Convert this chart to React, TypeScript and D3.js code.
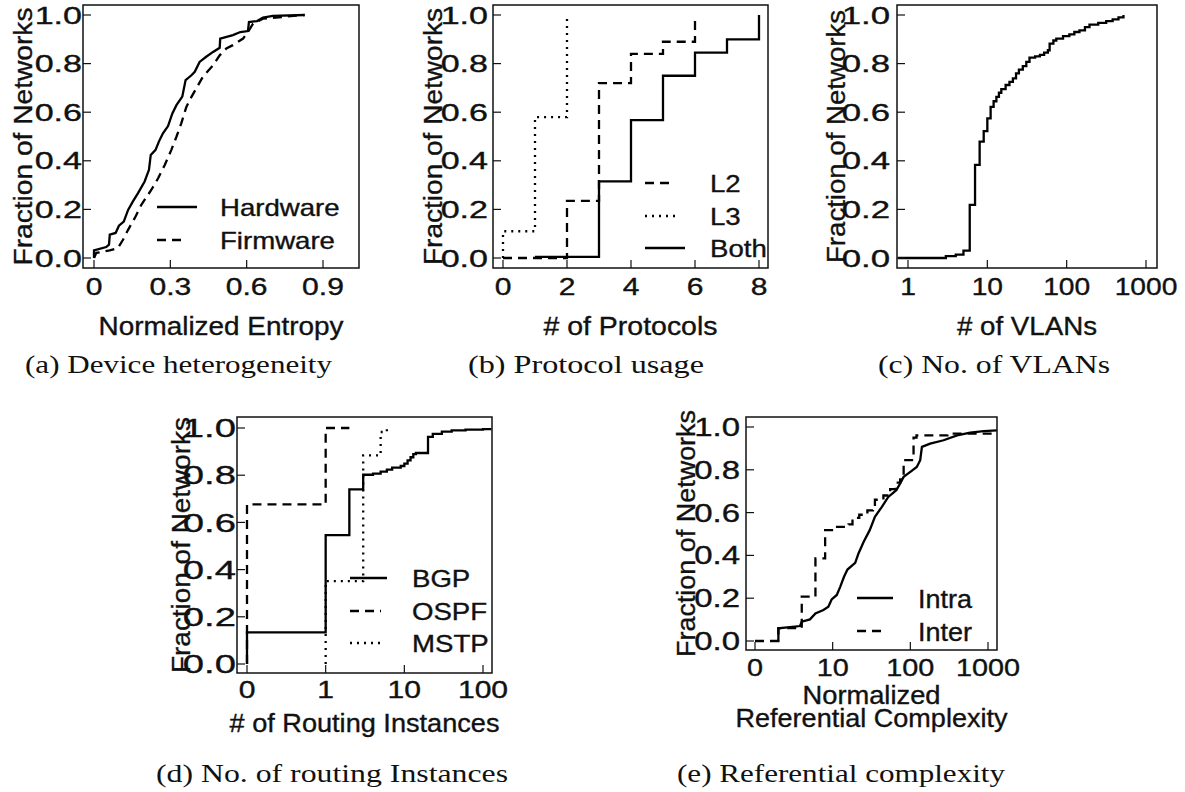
import React from "react";
import * as d3 from "d3";

type P = [number, number];

// ---------- (a) Device heterogeneity ----------
const hardwareCdf: P[] = [
  [0, 0], [0, 0.031], [0.048, 0.045], [0.059, 0.055], [0.062, 0.096], [0.085, 0.103],
  [0.098, 0.133], [0.117, 0.15], [0.134, 0.198], [0.153, 0.233], [0.173, 0.267],
  [0.199, 0.315], [0.216, 0.363], [0.223, 0.424], [0.242, 0.445], [0.255, 0.479],
  [0.271, 0.513], [0.291, 0.543], [0.308, 0.595], [0.324, 0.629], [0.347, 0.664],
  [0.36, 0.732], [0.383, 0.752], [0.396, 0.766], [0.415, 0.807], [0.441, 0.828],
  [0.468, 0.848], [0.494, 0.865], [0.496, 0.903], [0.546, 0.917], [0.575, 0.93],
  [0.605, 0.934], [0.609, 0.971], [0.641, 0.975], [0.664, 0.989], [0.703, 0.996],
  [0.828, 1.0],
];
const firmwareCdf: P[] = [
  [0, 0], [0.009, 0.021], [0.062, 0.031], [0.094, 0.041], [0.114, 0.075], [0.134, 0.116],
  [0.16, 0.164], [0.186, 0.219], [0.225, 0.28], [0.252, 0.328], [0.278, 0.383],
  [0.304, 0.445], [0.324, 0.499], [0.343, 0.554], [0.363, 0.622], [0.383, 0.663],
  [0.402, 0.698], [0.428, 0.746], [0.468, 0.793], [0.494, 0.834], [0.52, 0.862],
  [0.546, 0.876], [0.586, 0.903], [0.609, 0.937], [0.625, 0.964], [0.664, 0.985],
  [0.828, 1.0],
];
const aTicks = [0, 0.3, 0.6, 0.9];
const aTickLabels = ["0", "0.3", "0.6", "0.9"];

// ---------- (b) Protocol usage ----------
const l2Cdf: P[] = [[0, 0], [2, 0.235], [3, 0.72], [4, 0.84], [5, 0.89], [6, 0.98]];
const l3Cdf: P[] = [[0, 0], [0, 0.11], [1, 0.58], [2, 1.0]];
const bothCdf: P[] = [[1, 0.005], [3, 0.315], [4, 0.567], [5, 0.75], [6, 0.845], [7, 0.9], [8, 1.0]];
const bTicks = [0, 2, 4, 6, 8];
const bTickLabels = ["0", "2", "4", "6", "8"];

// ---------- (c) No. of VLANs ----------
const vlanCdf: P[] = [
  [0.75, 0], [3, 0.008], [4, 0.014], [5, 0.03], [6, 0.219], [7, 0.383], [8, 0.479],
  [9, 0.522], [10, 0.575], [11, 0.622], [12, 0.645], [13, 0.663], [14, 0.68], [15, 0.695],
  [17, 0.712], [19, 0.725], [21, 0.739], [23, 0.76], [25, 0.775], [28, 0.79], [31, 0.807],
  [34, 0.825], [40, 0.83], [46, 0.836], [52, 0.845], [58, 0.855], [61, 0.882], [68, 0.895],
  [74, 0.903], [90, 0.913], [108, 0.92], [125, 0.93], [145, 0.937], [170, 0.95],
  [194, 0.96], [250, 0.968], [315, 0.975], [380, 0.982], [450, 0.99], [520, 1.0],
];
const cTicks = [1, 10, 100, 1000];
const cTickLabels = ["1", "10", "100", "1000"];

// ---------- (d) No. of routing instances ----------
const bgpCdf: P[] = [
  [0, 0], [0, 0.134], [1, 0.546], [2, 0.74], [3, 0.802], [4, 0.807], [5, 0.815],
  [6, 0.824], [7, 0.832], [9, 0.839], [10, 0.849], [11, 0.863], [12, 0.876], [13, 0.889],
  [14, 0.894], [20, 0.962], [23, 0.975], [30, 0.985], [40, 0.99], [60, 0.993],
  [100, 0.995], [128, 0.995],
];
const ospfCdf: P[] = [[0, 0], [0, 0.676], [1, 1.0], [2, 1.0]];
const mstpCdf: P[] = [[1, 0], [1, 0.351], [3, 0.884], [5, 0.983], [6, 1.0]];
const dTicks = [0, 1, 10, 100];
const dTickLabels = ["0", "1", "10", "100"];

// ---------- (e) Referential complexity ----------
const intraCdf: P[] = [
  [2, 0], [2, 0.059], [2.6, 0.064], [3.8, 0.07], [4, 0.09], [5.1, 0.101], [6, 0.129],
  [7.6, 0.145], [8.8, 0.16], [9.7, 0.194], [11.3, 0.215], [12.5, 0.253], [14, 0.3],
  [15.5, 0.334], [19.5, 0.365], [21.5, 0.409], [25, 0.463], [30, 0.518], [35, 0.58],
  [43, 0.627], [52, 0.673], [66, 0.705], [74, 0.736], [82, 0.767], [100, 0.79],
  [121, 0.813], [134, 0.845], [141, 0.907], [180, 0.922], [268, 0.938], [400, 0.961],
  [590, 0.974], [880, 0.981], [1300, 0.984],
];
const interCdf: P[] = [
  [1, 0], [2, 0.06], [4, 0.207], [6, 0.386], [8, 0.518], [11, 0.533], [16, 0.545],
  [18, 0.575], [22, 0.59], [28, 0.61], [33, 0.62], [35, 0.66], [45, 0.68], [55, 0.71],
  [65, 0.74], [74, 0.755], [82, 0.845], [110, 0.95], [120, 0.961], [300, 0.969],
  [1300, 0.969],
];
const eTicks = [0, 10, 100, 1000];
const eTickLabels = ["0", "10", "100", "1000"];

const yTicks = [0, 0.2, 0.4, 0.6, 0.8, 1.0];
const yTickLabels = ["0.0", "0.2", "0.4", "0.6", "0.8", "1.0"];

const SANS = "'Liberation Sans', Arial, Helvetica, sans-serif";
const SERIF = "'Liberation Serif', 'Times New Roman', serif";

const DASH: Record<string, string | undefined> = {
  solid: undefined,
  dashed: "9,6",
  dotted: "2,5",
};

type Series = { data: P[]; style: "solid" | "dashed" | "dotted"; step: boolean };
type Legend = { label: string; style: "solid" | "dashed" | "dotted"; x1: number; x2: number; y: number };

type PanelCfg = {
  id: string;
  box: [number, number, number, number];
  xScale: (v: number) => number;
  yRange: [number, number];
  xTicks: number[];
  xTickLabels: string[];
  series: Series[];
  yTickRight: number;
  yTickFont: number;
  yTickSx: number;
  xTickBase: number;
  xTickFont: number;
  xTickSx: number;
  yLabelX: number;
  yLabelLen: number;
  xLabels: { text: string; y: number; len: number }[];
  caption: { text: string; cx: number; y: number; len: number };
  legend: Legend[];
  legendTextX: number;
  legendFont: number;
  legendSx: number;
};

const SANS_STROKE = 0.35;

const T: React.FC<{
  x: number; y: number; size: number; sx?: number; anchor?: string;
  children: React.ReactNode;
}> = ({ x, y, size, sx = 1, anchor = "start", children }) => (
  <text
    transform={`translate(${x},${y}) scale(${sx},1)`}
    fontSize={size}
    fontFamily={SANS}
    textAnchor={anchor as any}
    fill="#111"
    stroke="#111"
    strokeWidth={SANS_STROKE}
  >
    {children}
  </text>
);

const Panel: React.FC<{ cfg: PanelCfg }> = ({ cfg }) => {
  const [x0, x1, y0, y1] = cfg.box;
  const ys = d3.scaleLinear().domain([0, 1]).range(cfg.yRange);
  const cx = (x0 + x1) / 2;
  const cy = (y0 + y1) / 2;
  return (
    <g>
      <defs>
        <clipPath id={`clip-${cfg.id}`}>
          <rect x={x0} y={y0 - 2} width={x1 - x0} height={y1 - y0 + 2} />
        </clipPath>
      </defs>
      <g clipPath={`url(#clip-${cfg.id})`}>
        {cfg.series.map((s, i) => {
          const line = d3
            .line<P>()
            .x((d) => cfg.xScale(d[0]))
            .y((d) => ys(d[1]))
            .curve(s.step ? d3.curveStepAfter : d3.curveLinear);
          return (
            <path
              key={i}
              d={line(s.data) || ""}
              fill="none"
              stroke="#000"
              strokeWidth={2.3}
              strokeDasharray={DASH[s.style]}
              strokeLinejoin="miter"
            />
          );
        })}
      </g>
      <rect x={x0} y={y0} width={x1 - x0} height={y1 - y0} fill="none" stroke="#111" strokeWidth={1.5} />
      {yTicks.map((t, i) => (
        <g key={`yt${i}`}>
          <line x1={x0} x2={x0 + 8} y1={ys(t)} y2={ys(t)} stroke="#111" strokeWidth={1.2} />
          <T x={cfg.yTickRight} y={ys(t) + cfg.yTickFont * 0.36} size={cfg.yTickFont} sx={cfg.yTickSx} anchor="end">
            {yTickLabels[i]}
          </T>
        </g>
      ))}
      {cfg.xTicks.map((t, i) => (
        <g key={`xt${i}`}>
          <line x1={cfg.xScale(t)} x2={cfg.xScale(t)} y1={y1} y2={y1 - 8} stroke="#111" strokeWidth={1.2} />
          <T x={cfg.xScale(t)} y={cfg.xTickBase} size={cfg.xTickFont} sx={cfg.xTickSx} anchor="middle">
            {cfg.xTickLabels[i]}
          </T>
        </g>
      ))}
      <text
        transform={`translate(${cfg.yLabelX},${cy}) rotate(-90)`}
        fontSize={26}
        fontFamily={SANS}
        textAnchor="middle"
        textLength={cfg.yLabelLen}
        lengthAdjust="spacingAndGlyphs"
        fill="#111"
        stroke="#111"
        strokeWidth={SANS_STROKE}
      >
        Fraction of Networks
      </text>
      {cfg.xLabels.map((l, i) => (
        <text
          key={`xl${i}`}
          x={cx - l.len / 2}
          y={l.y}
          fontSize={25}
          fontFamily={SANS}
          textLength={l.len}
          lengthAdjust="spacingAndGlyphs"
          fill="#111"
          stroke="#111"
          strokeWidth={SANS_STROKE}
        >
          {l.text}
        </text>
      ))}
      {cfg.legend.map((lg, i) => (
        <g key={`lg${i}`}>
          <line x1={lg.x1} x2={lg.x2} y1={lg.y} y2={lg.y} stroke="#000" strokeWidth={2.3} strokeDasharray={DASH[lg.style]} />
          <T x={cfg.legendTextX} y={lg.y + cfg.legendFont * 0.38} size={cfg.legendFont} sx={cfg.legendSx}>
            {lg.label}
          </T>
        </g>
      ))}
      <text
        x={cfg.caption.cx - cfg.caption.len / 2}
        y={cfg.caption.y}
        fontSize={25}
        fontFamily={SERIF}
        textLength={cfg.caption.len}
        lengthAdjust="spacingAndGlyphs"
        fill="#111"
      >
        {cfg.caption.text}
      </text>
    </g>
  );
};

export default function App() {
  const xa = d3.scaleLinear().domain([0, 0.9]).range([94, 323]);
  const xb = d3.scaleLinear().domain([0, 8]).range([503, 759]);
  const xc = d3.scaleLog().domain([1, 1000]).range([908, 1146]);
  const xdLog = d3.scaleLog().domain([0.1, 100]).range([247, 483]);
  const xd = (v: number) => xdLog(v === 0 ? 0.1 : v);
  const xeLog = d3.scaleLog().domain([1, 1000]).range([755, 988]);
  const xe = (v: number) => xeLog(v === 0 ? 1 : v);

  const panels: PanelCfg[] = [
    {
      id: "a", box: [83, 359, 5, 268], xScale: xa, yRange: [258, 15],
      xTicks: aTicks, xTickLabels: aTickLabels,
      series: [
        { data: hardwareCdf, style: "solid", step: false },
        { data: firmwareCdf, style: "dashed", step: false },
      ],
      yTickRight: 82, yTickFont: 24, yTickSx: 1.42,
      xTickBase: 295, xTickFont: 23.5, xTickSx: 1.28,
      yLabelX: 32, yLabelLen: 258,
      xLabels: [{ text: "Normalized Entropy", y: 335, len: 245 }],
      caption: { text: "(a) Device heterogeneity", cx: 178.5, y: 373, len: 307 },
      legend: [
        { label: "Hardware", style: "solid", x1: 157, x2: 197, y: 207 },
        { label: "Firmware", style: "dashed", x1: 157, x2: 187, y: 240 },
      ],
      legendTextX: 220, legendFont: 23, legendSx: 1.2,
    },
    {
      id: "b", box: [493, 768, 5, 268], xScale: xb, yRange: [258, 15],
      xTicks: bTicks, xTickLabels: bTickLabels,
      series: [
        { data: l2Cdf, style: "dashed", step: true },
        { data: l3Cdf, style: "dotted", step: true },
        { data: bothCdf, style: "solid", step: true },
      ],
      yTickRight: 488, yTickFont: 24, yTickSx: 1.42,
      xTickBase: 295, xTickFont: 23.5, xTickSx: 1.28,
      yLabelX: 442, yLabelLen: 257,
      xLabels: [{ text: "# of Protocols", y: 335, len: 174 }],
      caption: { text: "(b) Protocol usage", cx: 586, y: 373, len: 236 },
      legend: [
        { label: "L2", style: "dashed", x1: 645, x2: 675, y: 183 },
        { label: "L3", style: "dotted", x1: 645, x2: 680, y: 216 },
        { label: "Both", style: "solid", x1: 645, x2: 685, y: 248 },
      ],
      legendTextX: 710, legendFont: 24, legendSx: 1.15,
    },
    {
      id: "c", box: [897, 1157, 5, 268], xScale: xc, yRange: [258, 15],
      xTicks: cTicks, xTickLabels: cTickLabels,
      series: [{ data: vlanCdf, style: "solid", step: true }],
      yTickRight: 890, yTickFont: 24, yTickSx: 1.45,
      xTickBase: 295, xTickFont: 23.5, xTickSx: 1.2,
      yLabelX: 845, yLabelLen: 253,
      xLabels: [{ text: "# of VLANs", y: 335, len: 140 }],
      caption: { text: "(c) No. of VLANs", cx: 994, y: 373, len: 232 },
      legend: [],
      legendTextX: 0, legendFont: 23, legendSx: 1,
    },
    {
      id: "d", box: [237, 492, 417, 673], xScale: xd, yRange: [664, 428],
      xTicks: dTicks, xTickLabels: dTickLabels,
      series: [
        { data: bgpCdf, style: "solid", step: true },
        { data: ospfCdf, style: "dashed", step: true },
        { data: mstpCdf, style: "dotted", step: true },
      ],
      yTickRight: 236, yTickFont: 25.5, yTickSx: 1.5,
      xTickBase: 698, xTickFont: 23.5, xTickSx: 1.28,
      yLabelX: 190, yLabelLen: 256,
      xLabels: [{ text: "# of Routing Instances", y: 732, len: 270 }],
      caption: { text: "(d) No. of routing Instances", cx: 332, y: 782, len: 352 },
      legend: [
        { label: "BGP", style: "solid", x1: 350, x2: 387, y: 578 },
        { label: "OSPF", style: "dashed", x1: 350, x2: 381, y: 611 },
        { label: "MSTP", style: "dotted", x1: 350, x2: 384, y: 643 },
      ],
      legendTextX: 412, legendFont: 23, legendSx: 1.2,
    },
    {
      id: "e", box: [746, 997, 417, 650], xScale: xe, yRange: [641, 427],
      xTicks: eTicks, xTickLabels: eTickLabels,
      series: [
        { data: intraCdf, style: "solid", step: false },
        { data: interCdf, style: "dashed", step: true },
      ],
      yTickRight: 740, yTickFont: 25, yTickSx: 1.32,
      xTickBase: 676, xTickFont: 24, xTickSx: 1.2,
      yLabelX: 695, yLabelLen: 247,
      xLabels: [
        { text: "Normalized", y: 704, len: 138 },
        { text: "Referential Complexity", y: 727, len: 272 },
      ],
      caption: { text: "(e) Referential complexity", cx: 841, y: 782, len: 328 },
      legend: [
        { label: "Intra", style: "solid", x1: 857, x2: 893, y: 598 },
        { label: "Inter", style: "dashed", x1: 857, x2: 887, y: 631 },
      ],
      legendTextX: 918, legendFont: 25, legendSx: 1.08,
    },
  ];

  return (
    <svg
      width={1185}
      height={792}
      viewBox="0 0 1185 792"
      style={{ position: "absolute", left: 0, top: 0, background: "#fff" }}
    >
      <rect x={0} y={0} width={1185} height={792} fill="#fff" />
      {panels.map((p) => (
        <Panel key={p.id} cfg={p} />
      ))}
    </svg>
  );
}
